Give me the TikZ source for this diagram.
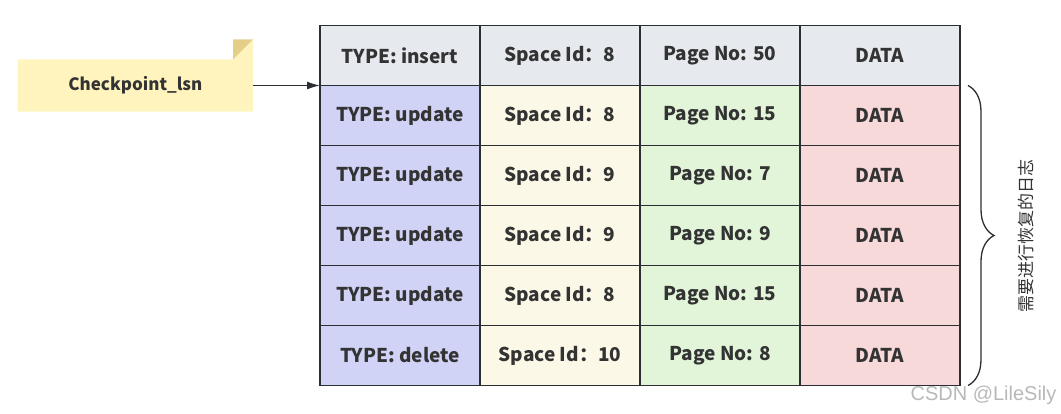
\documentclass[tikz,border=0pt]{standalone}
\usepackage{fontspec}
\setmainfont{Noto Sans CJK SC}
\newfontfamily\wmfont{Liberation Sans}
\usetikzlibrary{matrix, positioning, arrows.meta, decorations.pathreplacing}
\definecolor{txt}{HTML}{333333}
\definecolor{rim}{HTML}{2B2F33}
\definecolor{hdr}{HTML}{E6EAEE}
\definecolor{typecol}{HTML}{D0D3F6}
\definecolor{spacecol}{HTML}{FCF8E8}
\definecolor{pagecol}{HTML}{E2F5D9}
\definecolor{datacol}{HTML}{F8D9D9}
\definecolor{notefill}{HTML}{FFF4BD}
\definecolor{notefold}{HTML}{E5CF88}

\begin{document}
\begin{tikzpicture}[x=1pt, y=-1pt, every node/.style={font=\fontsize{19}{22}\selectfont\bfseries, text=txt}]
\useasboundingbox (0,0) rectangle (1061,413);
\matrix (log) at (640,205.5) [matrix of nodes, inner sep=0pt,
  column sep=0pt, row sep=0pt,
  nodes={outer sep=0pt, minimum width=160pt, minimum height=60pt, anchor=center},
  column 1/.style={nodes={fill=typecol}},
  column 2/.style={nodes={fill=spacecol}},
  column 3/.style={nodes={fill=pagecol}},
  column 4/.style={nodes={fill=datacol}},
  row 1/.style={nodes={fill=hdr}}]
{
TYPE: insert & Space Id：8  & Page No: 50 & DATA \\
TYPE: update & Space Id：8  & Page No: 15 & DATA \\
TYPE: update & Space Id：9  & Page No: 7  & DATA \\
TYPE: update & Space Id：9  & Page No: 9  & DATA \\
TYPE: update & Space Id：8  & Page No: 15 & DATA \\
TYPE: delete & Space Id：10 & Page No: 8  & DATA \\
};
% cell borders
\foreach \r in {1,...,6}
  \foreach \c in {1,...,4}
    \draw[rim, line width=1.3pt] (log-\r-\c.north west) rectangle (log-\r-\c.south east);
% checkpoint note
\node (ckpt) [minimum width=235pt, minimum height=52pt, inner sep=0pt,
  left=67pt of log-1-1.south west] {};
\fill[notefill] (ckpt.south west) -- (ckpt.north west) -- ([xshift=-20pt]ckpt.north east)
  -- ([yshift=20pt]ckpt.north east) -- (ckpt.south east) -- cycle;
\fill[notefold] ([xshift=-20pt]ckpt.north east) -- ([yshift=20pt]ckpt.north east)
  -- ([xshift=-20pt,yshift=20pt]ckpt.north east) -- cycle;
\node at (ckpt) [font=\fontsize{17}{20}\selectfont\bfseries] {Checkpoint\_lsn};
\draw[rim, line width=1.3pt, -{Latex[length=13pt, width=8pt]}] (ckpt.east) -- (log-1-1.south west);
% redo range
\draw[rim, line width=1.3pt, decorate, decoration={brace, amplitude=26pt}]
  ([xshift=8pt]log-2-4.north east) -- ([xshift=8pt]log-6-4.south east)
  coordinate[midway, xshift=58pt] (tip);
\node (redo) [rotate=90, font=\fontsize{17}{19}\selectfont] at (tip) {需要进行恢复的日志};
\node (mark) [anchor=east, font=\wmfont\fontsize{20}{22}\selectfont, text=black!28] at (1060,395) {CSDN @LileSily};
\end{tikzpicture}
\end{document}
